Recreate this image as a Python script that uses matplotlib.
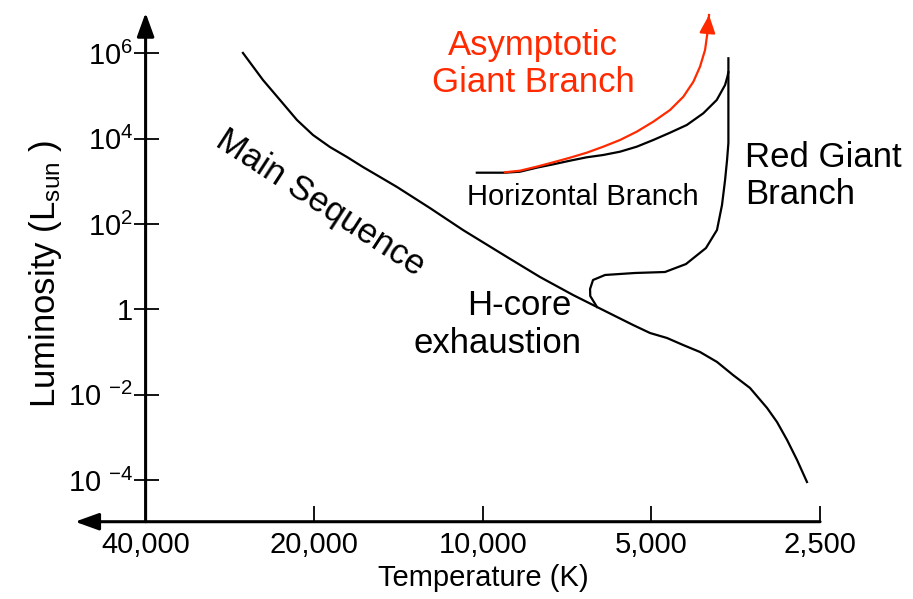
import numpy as np
import matplotlib
matplotlib.use("Agg")
import matplotlib.pyplot as plt

plt.rcParams['font.family'] = ['Liberation Sans', 'DejaVu Sans']
plt.rcParams['mathtext.fontset'] = 'custom'
plt.rcParams['mathtext.rm'] = 'Liberation Sans'
plt.rcParams['mathtext.it'] = 'Liberation Sans:italic'

# main sequence (temperature K, luminosity L_sun)
ms_temp = [26810, 24690, 23020, 21470, 20100, 18750, 17480, 16370, 15260, 14230,
           12430, 10850, 9054, 7906, 6902, 6254, 5760, 5393, 5030, 4690,
           4390, 4095, 3818, 3575, 3334, 3108, 2984, 2863, 2748, 2638]
ms_lum = [1.02e6, 2.37e5, 8.06e4, 2.74e4, 1.221e4, 6390, 3727, 2174, 1268, 739,
          238, 72.7, 16.96, 5.77, 2.186, 1.144, 0.667, 0.434, 0.2816, 0.215,
          0.1475, 0.101, 0.059, 0.0292, 0.01451, 0.00493, 0.00232, 8.79e-4,
          2.99e-4, 9.12e-5]

# subgiant hook + red giant branch
rgb_temp = [6254, 6430, 6435, 6357, 6050, 5350, 4729, 4338, 3996, 3819,
            3741, 3694, 3664, 3644, 3644]
rgb_lum = [1.144, 2.07, 3.02, 4.91, 6.43, 7.16, 7.55, 11.6, 27.5, 72.8,
           280, 1080, 3170, 7930, 7.64e5]

# horizontal branch
hb_temp = [10250, 9130, 8582, 8014, 7483, 6988, 6524, 6096, 5689, 5312,
           4962, 4632, 4324, 4040, 3823, 3694, 3659, 3644]
hb_lum = [1598, 1598, 1687, 2093, 2515, 3053, 3667, 4152, 4961, 6494,
          9324, 13820, 20930, 39340, 80600, 1.81e5, 2.83e5, 3.6e5]

# asymptotic giant branch
agb_temp = [9130, 8582, 8014, 7483, 6988, 6524, 6096, 5689, 5312, 4962,
            4632, 4385, 4208, 4095, 4011, 3973, 3946]
agb_lum = [1634, 1781, 2210, 2801, 3589, 4700, 6494, 9324, 14590, 25010,
           46990, 96300, 2.16e5, 4.86e5, 1.195e6, 2.94e6, 7.89e6]

x_ticks = [40000, 20000, 10000, 5000, 2500]
x_labels = ['40,000', '20,000', '10,000', '5,000', '2,500']
y_ticks = [1e6, 1e4, 1e2, 1, 1e-2, 1e-4]
y_labels = [r'$\mathregular{10^{6}}$', r'$\mathregular{10^{4}}$',
            r'$\mathregular{10^{2}}$', '1',
            r'$\mathregular{10\ ^{-2}}$', r'$\mathregular{10\ ^{-4}}$']

red = '#ff2a00'

fig = plt.figure(figsize=(9.13, 5.99), dpi=100)
ax = fig.add_axes([0, 0, 1, 1])
ax.set_xscale('log')
ax.set_yscale('log')
ax.set_xlim(10**4.862, 10**3.232)
ax.set_ylim(10**-6.78, 10**7.248)
ax.patch.set_alpha(0)

x_axis_at = 10**-4.97
ax.spines['left'].set_position(('data', 40000))
ax.spines['bottom'].set_position(('data', x_axis_at))
for s in ax.spines.values():
    s.set_visible(False)

# axis lines with arrow heads
arrow_kw = dict(arrowstyle='-|>,head_length=0.36,head_width=0.13', color='k',
                lw=2.2, mutation_scale=40, shrinkA=0, shrinkB=0)
ax.annotate('', xy=(10**4.728, x_axis_at), xytext=(2500, x_axis_at),
            arrowprops=arrow_kw)
ax.annotate('', xy=(40000, 10**6.95), xytext=(40000, x_axis_at),
            arrowprops=arrow_kw)

ax.set_xticks(x_ticks)
ax.set_xticklabels(x_labels)
ax.set_yticks(y_ticks)
ax.set_yticklabels(y_labels)
ax.minorticks_off()
ax.tick_params(axis='x', direction='in', length=11.5, width=1.3,
               labelsize=21, pad=7)
ax.tick_params(axis='y', direction='inout', length=18, width=1.3,
               labelsize=21, pad=0)

ax.set_xlabel('Temperature (K)', fontsize=21)
ax.xaxis.set_label_coords(483 / 913, 1 - 578 / 599)
ax.xaxis.label.set_va('center')
ax.set_ylabel(r'Luminosity (L$_{\mathregular{sun}}$ )', fontsize=25)
ax.yaxis.set_label_coords(45 / 913, 1 - 274 / 599)
ax.yaxis.label.set_va('center')

ax.plot(ms_temp, ms_lum, color='k', lw=1.6, solid_joinstyle='round')
ax.plot(rgb_temp, rgb_lum, color='k', lw=1.6, solid_joinstyle='round')
ax.plot(hb_temp, hb_lum, color='k', lw=1.6, solid_joinstyle='round')
ax.plot(agb_temp, agb_lum, color=red, lw=1.6, solid_joinstyle='round')
ax.annotate('', xy=(agb_temp[-1], agb_lum[-1]), xytext=(agb_temp[-2], agb_lum[-2]),
            arrowprops=dict(arrowstyle='-|>,head_length=0.5,head_width=0.22',
                            color=red, lw=1.6, mutation_scale=22,
                            shrinkA=0, shrinkB=0))

ax.text(19540, 312, 'Main Sequence', fontsize=25, rotation=-33,
        rotation_mode='anchor', ha='center', va='center')
ax.text(8130, 5.6e5, 'Asymptotic\nGiant Branch', fontsize=25, color=red,
        ha='center', va='center', linespacing=1.15)
ax.text(6620, 431, 'Horizontal Branch', fontsize=21, ha='center', va='center')
ax.text(3405, 1340, 'Red Giant\nBranch', fontsize=25, ha='left', va='center',
        linespacing=1.15)
ax.text(8590, 1.27, 'H-core', fontsize=25, ha='center', va='center')
ax.text(9400, 0.164, 'exhaustion', fontsize=25, ha='center', va='center')

fig.savefig('out.png', dpi=100, facecolor='white')
